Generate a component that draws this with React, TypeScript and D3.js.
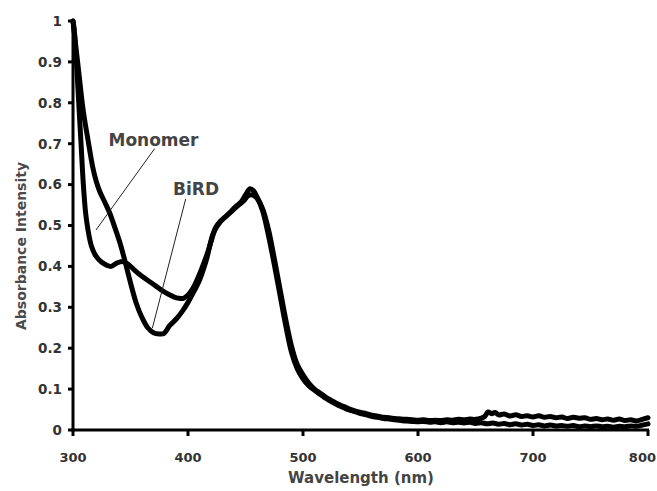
import React from 'react';
import * as d3 from 'd3';

// wavelength (nm) and absorbance
const monomerNm = [300, 301, 303, 305, 307, 309, 311, 313, 316, 320, 325, 330, 333, 338, 343, 348, 353, 358, 363, 368, 373, 378, 383, 388, 392, 396, 400, 404, 408, 412, 416, 420, 424, 428, 432, 436, 440, 445, 449, 452, 455, 458, 461, 465, 470, 475, 480, 485, 490, 495, 500,
  505, 510, 515, 520, 525, 530, 535, 540, 545, 550, 555, 560, 565, 570, 575, 580, 585, 590, 595, 600, 605, 610, 615, 620, 625, 630, 635, 640, 645, 650, 655, 658, 661, 664, 667, 670, 675, 680, 685, 690, 695, 700, 705, 710, 715, 720, 725, 730, 735, 740, 745, 750, 755, 760, 765, 770, 775, 780, 785, 790, 795, 800];
const monomerAbs = [1.0, 0.98, 0.9, 0.8, 0.7, 0.6, 0.53, 0.49, 0.45, 0.425, 0.41, 0.402, 0.4, 0.408, 0.412, 0.405, 0.392, 0.38, 0.37, 0.36, 0.35, 0.34, 0.332, 0.325, 0.322, 0.322, 0.33, 0.345, 0.368, 0.395, 0.425, 0.46, 0.495, 0.51, 0.52, 0.53, 0.54, 0.552, 0.562, 0.572, 0.575, 0.572, 0.563, 0.54, 0.49, 0.42, 0.345, 0.27, 0.205, 0.16, 0.135,
  0.115, 0.1, 0.09, 0.08, 0.072, 0.064, 0.058, 0.052, 0.047, 0.043, 0.04, 0.036, 0.034, 0.031, 0.03, 0.028, 0.027, 0.026, 0.025, 0.024, 0.025, 0.023, 0.024, 0.023, 0.025, 0.024, 0.026, 0.025, 0.027, 0.026, 0.029, 0.033, 0.044, 0.04, 0.043, 0.037, 0.039, 0.034, 0.037, 0.033, 0.035, 0.032, 0.035, 0.031, 0.033, 0.03, 0.032, 0.028, 0.031, 0.029, 0.03, 0.026, 0.028, 0.025, 0.027, 0.024, 0.027, 0.023, 0.025, 0.022, 0.026, 0.03];

const birdNm = [300, 302, 304, 306, 308, 310, 313, 317, 320, 323, 328, 332, 337, 341, 345, 350, 355, 360, 365, 370, 375, 379, 384, 390, 395, 400, 405, 410, 416, 422, 428, 436, 441, 446, 450, 454, 457, 460, 465, 470, 475, 480, 485, 490, 495, 500,
  505, 510, 515, 520, 525, 530, 535, 540, 545, 550, 555, 560, 565, 570, 575, 580, 585, 590, 595, 600, 605, 610, 615, 620, 625, 630, 635, 640, 645, 650, 655, 660, 665, 670, 675, 680, 685, 690, 695, 700, 705, 710, 715, 720, 725, 730, 735, 740, 745, 750, 755, 760, 765, 770, 775, 780, 785, 790, 795, 800];
const birdAbs = [1.0, 0.95, 0.9, 0.85, 0.8, 0.76, 0.71, 0.645, 0.61, 0.585, 0.555, 0.53, 0.49, 0.456, 0.415, 0.36, 0.31, 0.275, 0.25, 0.238, 0.235, 0.236, 0.255, 0.272, 0.29, 0.312, 0.338, 0.366, 0.416, 0.481, 0.509, 0.53, 0.545, 0.557, 0.575, 0.59, 0.585, 0.57, 0.535, 0.475, 0.405, 0.33, 0.255, 0.19, 0.15, 0.125,
  0.108, 0.097, 0.087, 0.077, 0.069, 0.061, 0.055, 0.049, 0.045, 0.04, 0.037, 0.033, 0.031, 0.028, 0.027, 0.025, 0.023, 0.022, 0.021, 0.02, 0.021, 0.019, 0.02, 0.018, 0.02, 0.018, 0.019, 0.017, 0.019, 0.016, 0.018, 0.015, 0.017, 0.014, 0.016, 0.013, 0.015, 0.012, 0.014, 0.011, 0.013, 0.01, 0.012, 0.01, 0.011, 0.009, 0.011, 0.008, 0.01, 0.008, 0.01, 0.008, 0.009, 0.007, 0.009, 0.008, 0.01, 0.009, 0.012, 0.015];

const xTicks = [300, 400, 500, 600, 700, 800];
const yTicks = [0, 0.1, 0.2, 0.3, 0.4, 0.5, 0.6, 0.7, 0.8, 0.9, 1];

// labels: [text, label nm, label abs, pointer-from nm, abs, pointer-to nm, abs]
const labels: [string, number, number, number, number, number, number][] = [
  ['Monomer', 370, 0.694, 371, 0.688, 320, 0.489],
  ['BiRD', 407, 0.575, 398, 0.565, 369, 0.249],
];

const W = 657;
const H = 491;
const font = '"DejaVu Sans", Arial, sans-serif';

export default function App() {
  const x = d3.scaleLinear().domain([300, 800]).range([73, 648]);
  const y = d3.scaleLinear().domain([0, 1]).range([430, 21]);

  const line = d3.line<[number, number]>()
    .x(d => x(d[0]))
    .y(d => y(d[1]))
    .curve(d3.curveCatmullRom.alpha(0.5));

  const monomer = monomerNm.map((n, i) => [n, monomerAbs[i]] as [number, number]);
  const bird = birdNm.map((n, i) => [n, birdAbs[i]] as [number, number]);

  return (
    <div style={{ position: 'fixed', left: 0, top: 0 }}>
      <svg width={W} height={H} style={{ display: 'block', background: '#fff' }}>
        {/* curves */}
        {[monomer, bird].map((d, i) => (
          <path key={i} d={line(d) || ''} fill="none" stroke="#000" strokeWidth={5}
            strokeLinejoin="round" strokeLinecap="round" />
        ))}

        {/* axes */}
        <line x1={x(300)} x2={x(300)} y1={y(1) - 1} y2={y(0) + 1.5} stroke="#000" strokeWidth={3} />
        <line x1={x(300) - 1.5} x2={x(800) + 1} y1={y(0)} y2={y(0)} stroke="#000" strokeWidth={3} />
        {yTicks.map(t => (
          <g key={t}>
            <line x1={x(300) - 5} x2={x(300)} y1={y(t)} y2={y(t)} stroke="#000" strokeWidth={3} />
            <text x={62} y={y(t)} dy="0.36em" textAnchor="end" fontFamily={font} fontWeight="bold"
              fontSize={13.5} fill="#333">{t}</text>
          </g>
        ))}
        {xTicks.map((t, i) => {
          const last = i === xTicks.length - 1;
          return (
            <g key={t}>
              <line x1={x(t)} x2={x(t)} y1={y(0)} y2={y(0) + 6} stroke="#000" strokeWidth={3} />
              <text x={last ? W - 1 : x(t)} y={462} textAnchor={last ? 'end' : 'middle'} fontFamily={font}
                fontWeight="bold" fontSize={13} fill="#333">{t}</text>
            </g>
          );
        })}

        {/* axis titles */}
        <text x={361} y={483} textAnchor="middle" fontFamily={font} fontWeight="bold" fontSize={15}
          fill="#444">Wavelength (nm)</text>
        <text transform="translate(26,246) rotate(-90)" textAnchor="middle" fontFamily={font}
          fontWeight="bold" fontSize={14} fill="#4a4a4a">Absorbance Intensity</text>

        {/* series labels with pointers */}
        {labels.map(([txt, ln, la, fn, fa, tn, ta]) => (
          <g key={txt}>
            <line x1={x(fn)} y1={y(fa)} x2={x(tn)} y2={y(ta)} stroke="#222" strokeWidth={1} />
            <text x={x(ln)} y={y(la)} textAnchor="middle" fontFamily={font} fontWeight="bold"
              fontSize={17} fill="#444">{txt}</text>
          </g>
        ))}
      </svg>
    </div>
  );
}
